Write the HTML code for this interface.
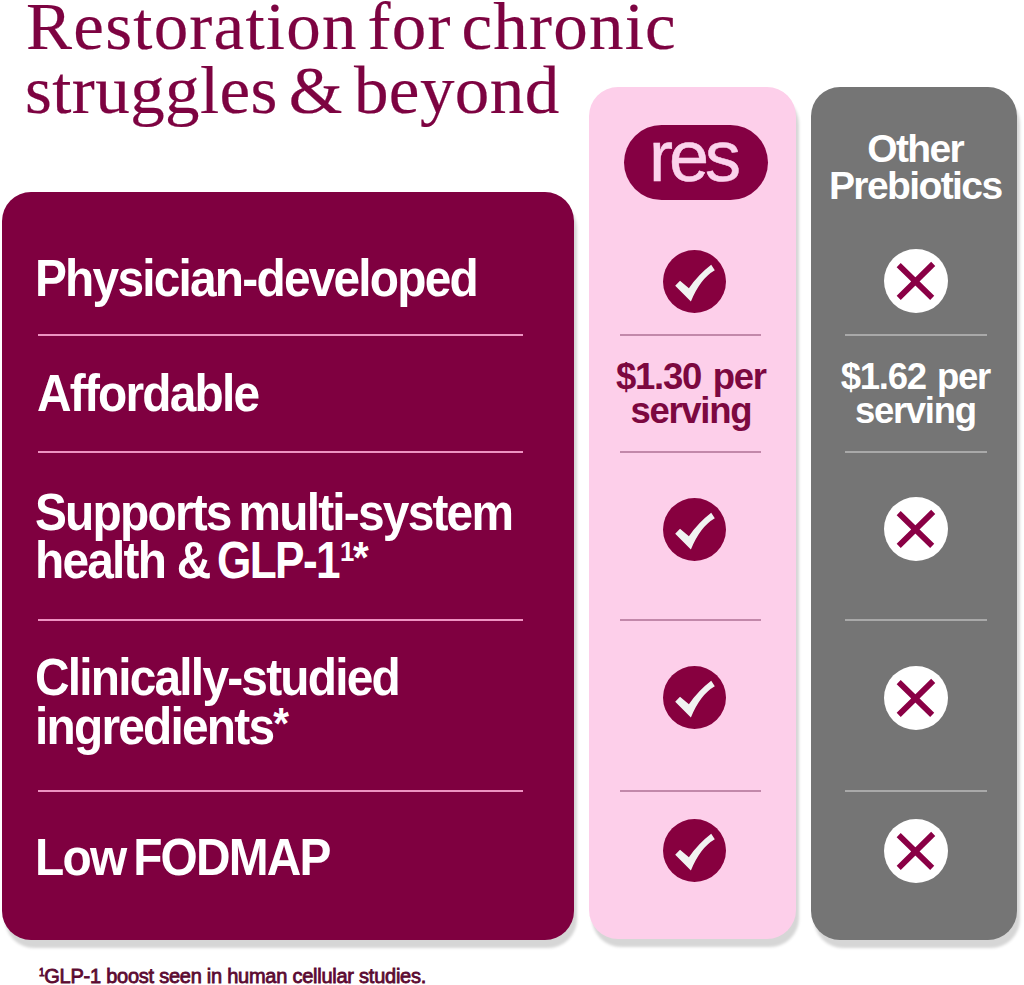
<!DOCTYPE html>
<html>
<head>
<meta charset="utf-8">
<style>
html,body{margin:0;padding:0;}
body{width:1024px;height:985px;background:#fff;position:relative;overflow:hidden;font-family:"Liberation Sans",sans-serif;}
.abs{position:absolute;white-space:nowrap;}
.title{font-family:"Liberation Serif",serif;color:#7d0341;font-size:67px;line-height:65px;-webkit-text-stroke:0.2px #7d0341;}
.box{position:absolute;border-radius:29px;box-shadow:3px 8px 3px #d6d6d6;}
.left{left:2px;top:192px;width:572px;height:748px;background:#7f0040;}
.pink{left:589px;top:87px;width:207px;height:852px;background:#fdcfea;}
.gray{left:811px;top:87px;width:206px;height:853px;background:#757575;}
.lab{color:#fff;font-weight:bold;font-size:52px;line-height:60px;left:35px;letter-spacing:-1.94px;word-spacing:-4px;transform:scaleX(0.92);transform-origin:0 0;}
.lab2{line-height:49px;}
.hr{position:absolute;height:2px;}
.hl{left:38px;width:485px;background:#ee93c2;}
.hp{left:620px;width:141px;background:#c288aa;}
.hg{left:845px;width:142px;background:#a9a9a9;}
.ic{position:absolute;width:63px;height:63px;}
.pill{position:absolute;left:624px;top:125px;width:144px;height:75px;border-radius:38px;background:#850043;}
.res{color:#fbd3ec;font-size:72px;line-height:80px;left:595px;width:200px;top:116px;text-align:center;letter-spacing:-4px;text-indent:-4px;-webkit-text-stroke:0.5px #fbd3ec;}
.oth{color:#fff;font-weight:bold;font-size:39px;line-height:60px;left:813px;width:206px;text-align:center;letter-spacing:-1.6px;text-indent:-1.6px;}
.price{font-weight:bold;font-size:36.5px;line-height:60px;text-align:center;letter-spacing:-1.3px;text-indent:-1.3px;}
.foot{color:#5c0a31;font-size:20px;line-height:30px;left:39px;top:961px;letter-spacing:-0.25px;-webkit-text-stroke:0.8px #5c0a31;}
</style>
</head>
<body>
<div class="abs title" style="left:26px;top:-6px;letter-spacing:1.2px;word-spacing:-8.5px;transform:scaleX(1.03);transform-origin:0 0">Restoration for chronic</div>
<div class="abs title" style="left:25px;top:58px;letter-spacing:0.4px;word-spacing:-6.5px;transform:scaleX(1.03);transform-origin:0 0">struggles &amp; beyond</div>

<div class="box left"></div>
<div class="box pink"></div>
<div class="box gray"></div>

<div class="pill"></div>
<div class="abs res">res</div>
<div class="abs oth" style="top:119px">Other</div>
<div class="abs oth" style="top:156px">Prebiotics</div>

<div class="abs lab" style="top:248px">Physician-developed</div>
<div class="abs lab" style="top:363px;left:37px">Affordable</div>
<div class="abs lab" style="top:482px">Supports multi-system</div>
<div class="abs lab" style="top:530px;word-spacing:0px">health &amp;</div>
<div class="abs lab" style="top:530px;left:216.5px;transform:scaleX(0.85)">GLP-1</div>
<div class="abs lab" style="top:522px;left:340px;font-size:28px">1</div>
<div class="abs lab" style="top:530px;left:353px"><span style="font-size:44px;vertical-align:5px;line-height:0">*</span></div>
<div class="abs lab" style="top:647px">Clinically-studied</div>
<div class="abs lab" style="top:696px">ingredients<span style="font-size:44px;vertical-align:5px;line-height:0">*</span></div>
<div class="abs lab" style="top:827px">Low FODMAP</div>

<div class="hr hl" style="top:334px"></div>
<div class="hr hl" style="top:451px"></div>
<div class="hr hl" style="top:619px"></div>
<div class="hr hl" style="top:790px"></div>
<div class="hr hp" style="top:334px"></div>
<div class="hr hp" style="top:451px"></div>
<div class="hr hp" style="top:619px"></div>
<div class="hr hp" style="top:790px"></div>
<div class="hr hg" style="top:334px"></div>
<div class="hr hg" style="top:451px"></div>
<div class="hr hg" style="top:619px"></div>
<div class="hr hg" style="top:790px"></div>

<div class="abs price" style="left:588px;width:207px;top:347px;color:#7c0840;word-spacing:3px">$1.30 per</div>
<div class="abs price" style="left:588px;width:207px;top:381px;color:#7c0840">serving</div>
<div class="abs price" style="left:813px;width:206px;top:347px;color:#fff;word-spacing:2.5px">$1.62 per</div>
<div class="abs price" style="left:813px;width:206px;top:381px;color:#fff">serving</div>

<svg class="ic" style="left:663.2px;top:249.5px" viewBox="0 0 63 63"><circle cx="31.5" cy="31.5" r="31.5" fill="#87003f"/><path d="M17 30.8 L12.2 35.7 L27.9 51.4 Q37.2 28.6 51.8 20.2 L48.2 14.8 Q35.5 24.5 25.9 38.2 Z" fill="#f1f3f1"/></svg>
<svg class="ic" style="left:663.2px;top:497.7px" viewBox="0 0 63 63"><circle cx="31.5" cy="31.5" r="31.5" fill="#87003f"/><path d="M17 30.8 L12.2 35.7 L27.9 51.4 Q37.2 28.6 51.8 20.2 L48.2 14.8 Q35.5 24.5 25.9 38.2 Z" fill="#f1f3f1"/></svg>
<svg class="ic" style="left:663.2px;top:666.2px" viewBox="0 0 63 63"><circle cx="31.5" cy="31.5" r="31.5" fill="#87003f"/><path d="M17 30.8 L12.2 35.7 L27.9 51.4 Q37.2 28.6 51.8 20.2 L48.2 14.8 Q35.5 24.5 25.9 38.2 Z" fill="#f1f3f1"/></svg>
<svg class="ic" style="left:663.2px;top:819px" viewBox="0 0 63 63"><circle cx="31.5" cy="31.5" r="31.5" fill="#87003f"/><path d="M17 30.8 L12.2 35.7 L27.9 51.4 Q37.2 28.6 51.8 20.2 L48.2 14.8 Q35.5 24.5 25.9 38.2 Z" fill="#f1f3f1"/></svg>
<svg class="ic" style="left:884px;top:249px;width:64px;height:64px" viewBox="0 0 64 64"><circle cx="32" cy="32" r="32" fill="#fff"/><path d="M14.7 16.2 L48.2 48.9 M49.2 14.9 L14.7 48.9" stroke="#8a0045" stroke-width="5.8"/></svg>
<svg class="ic" style="left:884px;top:497px;width:64px;height:64px" viewBox="0 0 64 64"><circle cx="32" cy="32" r="32" fill="#fff"/><path d="M14.7 16.2 L48.2 48.9 M49.2 14.9 L14.7 48.9" stroke="#8a0045" stroke-width="5.8"/></svg>
<svg class="ic" style="left:884px;top:666px;width:64px;height:64px" viewBox="0 0 64 64"><circle cx="32" cy="32" r="32" fill="#fff"/><path d="M14.7 16.2 L48.2 48.9 M49.2 14.9 L14.7 48.9" stroke="#8a0045" stroke-width="5.8"/></svg>
<svg class="ic" style="left:884px;top:819px;width:64px;height:64px" viewBox="0 0 64 64"><circle cx="32" cy="32" r="32" fill="#fff"/><path d="M14.7 16.2 L48.2 48.9 M49.2 14.9 L14.7 48.9" stroke="#8a0045" stroke-width="5.8"/></svg>

<div class="abs foot"><span style="font-size:10px;position:relative;top:-7px;line-height:0">1</span>GLP-1 boost seen in human cellular studies.</div>
</body>
</html>
